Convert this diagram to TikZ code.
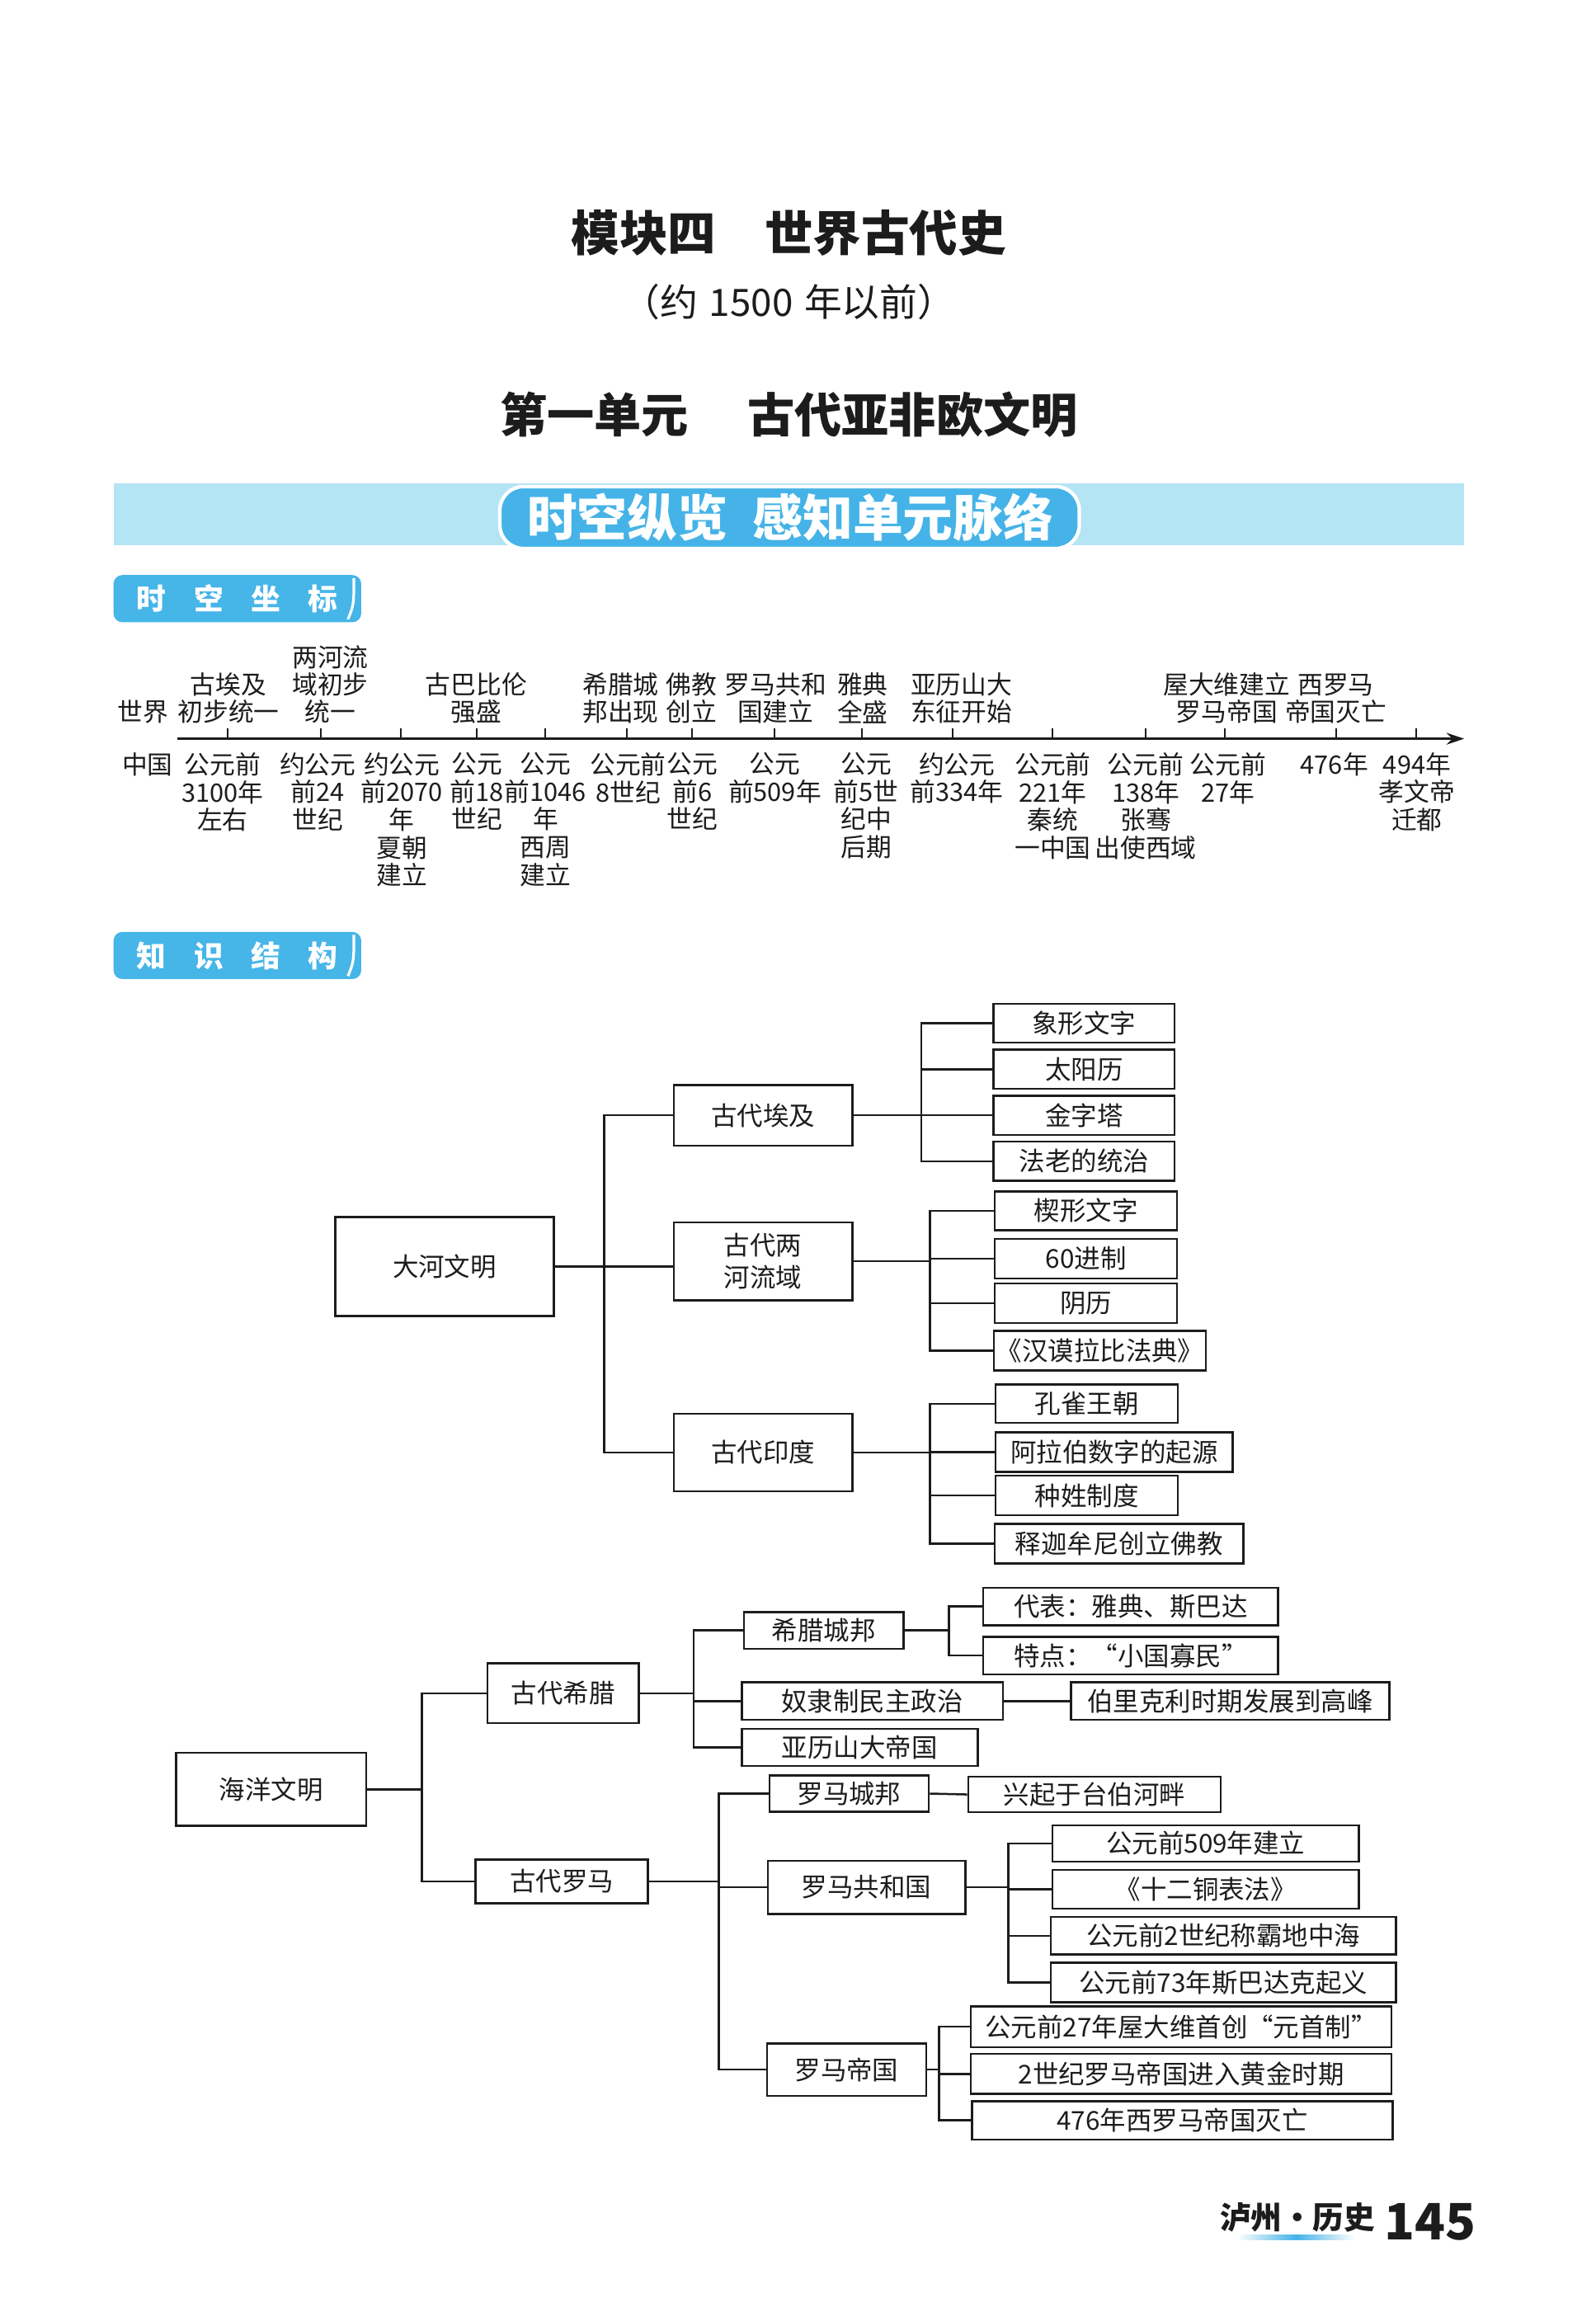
\documentclass[tikz,border=0pt]{standalone}
\usepackage{fontspec}
\setmainfont{Noto Sans CJK SC}
\usetikzlibrary{arrows.meta, positioning}
\definecolor{StripCyan}{HTML}{B3E5F5}
\definecolor{PillBlue}{HTML}{45B3E7}
\definecolor{TagBlue}{HTML}{46B5E8}
\definecolor{InkBlack}{HTML}{1C1C1C}

\tikzset{
  up/.style={inner sep=0pt, align=center, anchor=south, font=\fontsize{8.6}{9.3}\selectfont},
  down/.style={inner sep=0pt, align=center, anchor=north, font=\fontsize{8.6}{9.4}\selectfont},
  hub/.style={draw, line width=0.7pt, inner sep=0pt, align=center, font=\fontsize{8.8}{10.8}\selectfont},
  leaf/.style={hub, anchor=west},
  link/.style={line width=0.7pt},
  tagtext/.style={text=white, font=\fontsize{10}{12}\selectfont\bfseries}
}

\begin{document}
\begin{tikzpicture}[x=0.5pt, y=-0.5pt, color=InkBlack]
    \useasboundingbox (0,0) rectangle (1082,1568);
    \fill[white] (0,0) rectangle (1082,1568);

    % headings
    \node[font=\fontsize{16.4}{18}\selectfont\bfseries] (module) at (535,158) {模块四\hspace{1em}世界古代史};
    \node[font=\fontsize{12.8}{14}\selectfont] (period) at (535,205) {（约\hspace{0.3em}1500\hspace{0.3em}年以前）};
    \node[font=\fontsize{16}{18}\selectfont\bfseries] (unit) at (535,281) {第一单元\hspace{1.25em}古代亚非欧文明};

    % banner
    \fill[StripCyan] (77,328) rectangle (993,370);
    \draw[white, line width=1.2pt, fill=PillBlue, rounded corners=8pt] (339,330) rectangle (732,372);
    \node[text=white, font=\fontsize{17}{20}\selectfont\bfseries] (banner) at (536,351) {时空纵览\hspace{0.5em}感知单元脉络};

    % tag: time and space
    \fill[TagBlue, rounded corners=3pt] (77,390) rectangle (245,422);
    \draw[white, line width=0.9pt] (240,392) .. controls (240,410) .. (236,420);
    \node[tagtext] (tagtime) at (161,406) {时\hspace{0.94em}空\hspace{0.94em}坐\hspace{0.94em}标};

    % timeline
    \draw[line width=0.9pt, -{Stealth[length=6pt, width=4pt]}] (120,501) -- (993,501);
    \foreach \t in {154.5,217.5,271.8,323.5,369.8,425.3,469.3,525.5,584.8,646.1,713.9,776.9,830.8,906,960.5}
        \draw[line width=0.6pt] (\t,501) -- (\t,494);

    \node[up] (world) at (97,491) {世界};
    \node[up] (w1) at (155,491) {古埃及\\初步统一};
    \node[up] (w2) at (224,491) {两河流\\域初步\\统一};
    \node[up] (w3) at (323,491) {古巴比伦\\强盛};
    \node[up] (w4) at (421,491) {希腊城\\邦出现};
    \node[up] (w5) at (469,491) {佛教\\创立};
    \node[up] (w6) at (526,491) {罗马共和\\国建立};
    \node[up] (w7) at (585,491) {雅典\\全盛};
    \node[up] (w8) at (652,491) {亚历山大\\东征开始};
    \node[up] (w9) at (832,491) {屋大维建立\\罗马帝国};
    \node[up] (w10) at (906,491) {西罗马\\帝国灭亡};

    \node[down] (china) at (100,510) {中国};
    \node[down] (c1) at (151,510) {公元前\\3100年\\左右};
    \node[down] (c2) at (215.5,510) {约公元\\前24\\世纪};
    \node[down] (c3) at (272.5,510) {约公元\\前2070\\年\\夏朝\\建立};
    \node[down] (c4) at (323.5,510) {公元\\前18\\世纪};
    \node[down] (c5) at (370,510) {公元\\前1046\\年\\西周\\建立};
    \node[down] (c6) at (426,510) {公元前\\8世纪};
    \node[down] (c7) at (469.5,510) {公元\\前6\\世纪};
    \node[down] (c8) at (525.5,510) {公元\\前509年};
    \node[down] (c9) at (587.5,510) {公元\\前5世\\纪中\\后期};
    \node[down] (c10) at (649,510) {约公元\\前334年};
    \node[down] (c11) at (714,510) {公元前\\221年\\秦统\\一中国};
    \node[down] (c12) at (777,510) {公元前\\138年\\张骞\\出使西域};
    \node[down] (c13) at (833,510) {公元前\\27年};
    \node[down] (c14) at (905,510) {476年};
    \node[down] (c15) at (961,510) {494年\\孝文帝\\迁都};

    % tag: knowledge structure
    \fill[TagBlue, rounded corners=3pt] (77,632) rectangle (245,664);
    \draw[white, line width=0.9pt] (240,634) .. controls (240,652) .. (236,662);
    \node[tagtext] (tagknow) at (161,648) {知\hspace{0.94em}识\hspace{0.94em}结\hspace{0.94em}构};

    % river civilisations
    \node[hub, minimum width=74pt, minimum height=33.5pt] (dahe) at (301.5,859) {大河文明};
    \node[hub, minimum width=60.6pt, minimum height=20.5pt] (aiji) at (517.5,756.4) {古代埃及};
    \node[hub, minimum width=60.6pt, minimum height=26.5pt] (lianghe) at (517.5,855.4) {古代两\\河流域};
    \node[hub, minimum width=60.6pt, minimum height=26.3pt] (yindu) at (517.5,985) {古代印度};

    \node[leaf, minimum width=61.5pt, minimum height=13.2pt] (xiangxing) at (673,693.9) {象形文字};
    \node[leaf, minimum width=61.5pt, minimum height=13.3pt] (taiyang) at (673,725.2) {太阳历};
    \node[leaf, minimum width=61.5pt, minimum height=13.2pt] (jinzita) at (673,756.4) {金字塔};
    \node[leaf, minimum width=61.5pt, minimum height=13.3pt] (falao) at (673,787.6) {法老的统治};

    \node[leaf, minimum width=61.8pt, minimum height=13.1pt] (xiexing) at (674,821.1) {楔形文字};
    \node[leaf, minimum width=61.8pt, minimum height=13.4pt] (liushi) at (674,853.6) {60进制};
    \node[leaf, minimum width=61.8pt, minimum height=13.4pt] (yinli) at (674,883.9) {阴历};
    \node[leaf, minimum width=71.9pt, minimum height=13.4pt] (fadian) at (673.4,916) {《汉谟拉比法典》};

    \node[leaf, minimum width=61.8pt, minimum height=13pt] (kongque) at (674.6,952) {孔雀王朝};
    \node[leaf, minimum width=80.4pt, minimum height=13.4pt] (alabo) at (674.6,984.9) {阿拉伯数字的起源};
    \node[leaf, minimum width=61.8pt, minimum height=13.4pt] (zhongxing) at (674.6,1014.2) {种姓制度};
    \node[leaf, minimum width=84.3pt, minimum height=13.4pt] (shijia) at (674,1047) {释迦牟尼创立佛教};

    \foreach \n in {aiji,yindu}
        \draw[link] (dahe.east) -- ++(33.5,0) |- (\n.west);
    \draw[link] (dahe.east) -- (dahe.east -| lianghe.west);
    \foreach \n in {xiangxing,taiyang,jinzita,falao}
        \draw[link] (aiji.east) -- ++(46,0) |- (\n.west);
    \foreach \n in {xiexing,liushi,yinli,fadian}
        \draw[link] (lianghe.east) -- ++(52,0) |- (\n.west);
    \foreach \n in {kongque,alabo,zhongxing,shijia}
        \draw[link] (yindu.east) -- ++(52,0) |- (\n.west);

    % ocean civilisations
    \node[hub, minimum width=64.5pt, minimum height=24.8pt] (haiyang) at (183.8,1213.5) {海洋文明};
    \node[hub, minimum width=51.4pt, minimum height=20.3pt] (xila) at (381.9,1148.3) {古代希腊};
    \node[hub, minimum width=58.5pt, minimum height=14.8pt] (luoma) at (381,1276) {古代罗马};

    \node[leaf, minimum width=54pt, minimum height=12.5pt] (chengbang) at (504,1105.7) {希腊城邦};
    \node[leaf, minimum width=88.5pt, minimum height=12.7pt] (minzhu) at (502.4,1153.7) {奴隶制民主政治};
    \node[leaf, minimum width=80pt, minimum height=12.7pt] (yali) at (502.4,1185.1) {亚历山大帝国};
    \node[leaf, minimum width=100pt, minimum height=12.8pt] (daibiao) at (666.2,1089.5) {代表：雅典、斯巴达};
    \node[leaf, minimum width=100pt, minimum height=12.8pt] (tedian) at (666.2,1122.8) {特点：“小国寡民”};
    \node[leaf, minimum width=108pt, minimum height=12.7pt] (boli) at (725.6,1153.7) {伯里克利时期发展到高峰};

    \node[leaf, minimum width=54pt, minimum height=12.4pt] (chengshi) at (521.2,1216.4) {罗马城邦};
    \node[leaf, minimum width=67pt, minimum height=18pt] (gonghe) at (520,1280) {罗马共和国};
    \node[leaf, minimum width=54pt, minimum height=17.7pt] (diguo) at (519.5,1403.6) {罗马帝国};
    \node[leaf, minimum width=85.6pt, minimum height=12pt] (taibo) at (656,1217) {兴起于台伯河畔};

    \node[leaf, minimum width=104pt, minimum height=12.4pt] (jianli) at (713,1250.2) {公元前509年建立};
    \node[leaf, minimum width=104pt, minimum height=13.2pt] (tongbiao) at (713,1281.3) {《十二铜表法》};
    \node[leaf, minimum width=117pt, minimum height=12.8pt] (chengba) at (712,1312.8) {公元前2世纪称霸地中海};
    \node[leaf, minimum width=117pt, minimum height=13.5pt] (qiyi) at (712,1344.5) {公元前73年斯巴达克起义};

    \node[leaf, minimum width=142.7pt, minimum height=13.8pt] (yuanshou) at (657.7,1374.5) {公元前27年屋大维首创“元首制”};
    \node[leaf, minimum width=142.7pt, minimum height=13.5pt] (huangjin) at (657.7,1406.5) {2世纪罗马帝国进入黄金时期};
    \node[leaf, minimum width=142.7pt, minimum height=13pt] (miewang) at (658.5,1438) {476年西罗马帝国灭亡};

    \foreach \n in {xila,luoma}
        \draw[link] (haiyang.east) -- ++(37,0) |- (\n.west);
    \foreach \n in {chengbang,minzhu,yali}
        \draw[link] (xila.east) -- ++(36.5,0) |- (\n.west);
    \foreach \n in {daibiao,tedian}
        \draw[link] (chengbang.east) -- ++(30.3,0) |- (\n.west);
    \draw[link] (minzhu.east) -- (boli.west);
    \foreach \n in {chengshi,gonghe,diguo}
        \draw[link] (luoma.east) -- ++(47.4,0) |- (\n.west);
    \draw[link] (chengshi.east) -- (taibo.west);
    \foreach \n in {jianli,tongbiao,chengba,qiyi}
        \draw[link] (gonghe.east) -- ++(28.5,0) |- (\n.west);
    \foreach \n in {yuanshou,huangjin,miewang}
        \draw[link] (diguo.east) -- ++(8,0) |- (\n.west);

    % footer
    \shade[left color=white, right color=white, middle color=PillBlue] (839,1515.5) rectangle (919,1519);
    \node[font=\fontsize{10.5}{12}\selectfont\bfseries] (book) at (880,1504) {泸州・历史};
    \node[font=\fontsize{17}{20}\selectfont\bfseries] (page) at (970,1507) {145};
\end{tikzpicture}
\end{document}
